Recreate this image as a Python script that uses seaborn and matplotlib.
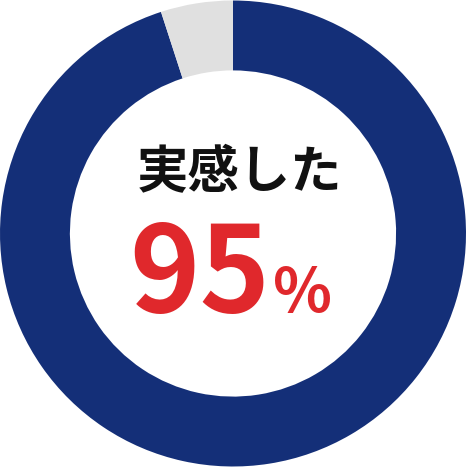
import matplotlib
matplotlib.use("Agg")
import matplotlib.pyplot as plt
import seaborn as sns

labels = ["実感した", "その他"]
values = [95, 5]
colors = ["#142f78", "#e0e0e0"]
title = "実感した"
pct_num = "95"
pct_sign = "%"

sns.set_theme(style="white")
plt.rcParams['font.family'] = ['Noto Sans CJK JP', 'DejaVu Sans']

fig = plt.figure(figsize=(4.66, 4.67), dpi=100)
ax = fig.add_axes([0, 0, 1, 1])
ax.pie(values, colors=colors, startangle=90, counterclock=False,
       radius=1.0, wedgeprops=dict(width=0.30, linewidth=0))
ax.set_xlim(-1.0, 1.0)
ax.set_ylim(-1.0, 1.0)
ax.set_aspect("equal")
ax.axis("off")

ax.text(0.026, 0.263, title, ha="center", va="center", fontsize=37,
        fontweight="bold", color="#111111")
ax.text(0.160, -0.336, pct_num, ha="right", va="baseline", fontsize=86,
        fontweight="bold", color="#e0282c")
ax.text(0.170, -0.336, pct_sign, ha="left", va="baseline", fontsize=44,
        fontweight="bold", color="#e0282c")

fig.savefig("out.png", dpi=100, facecolor="white")
